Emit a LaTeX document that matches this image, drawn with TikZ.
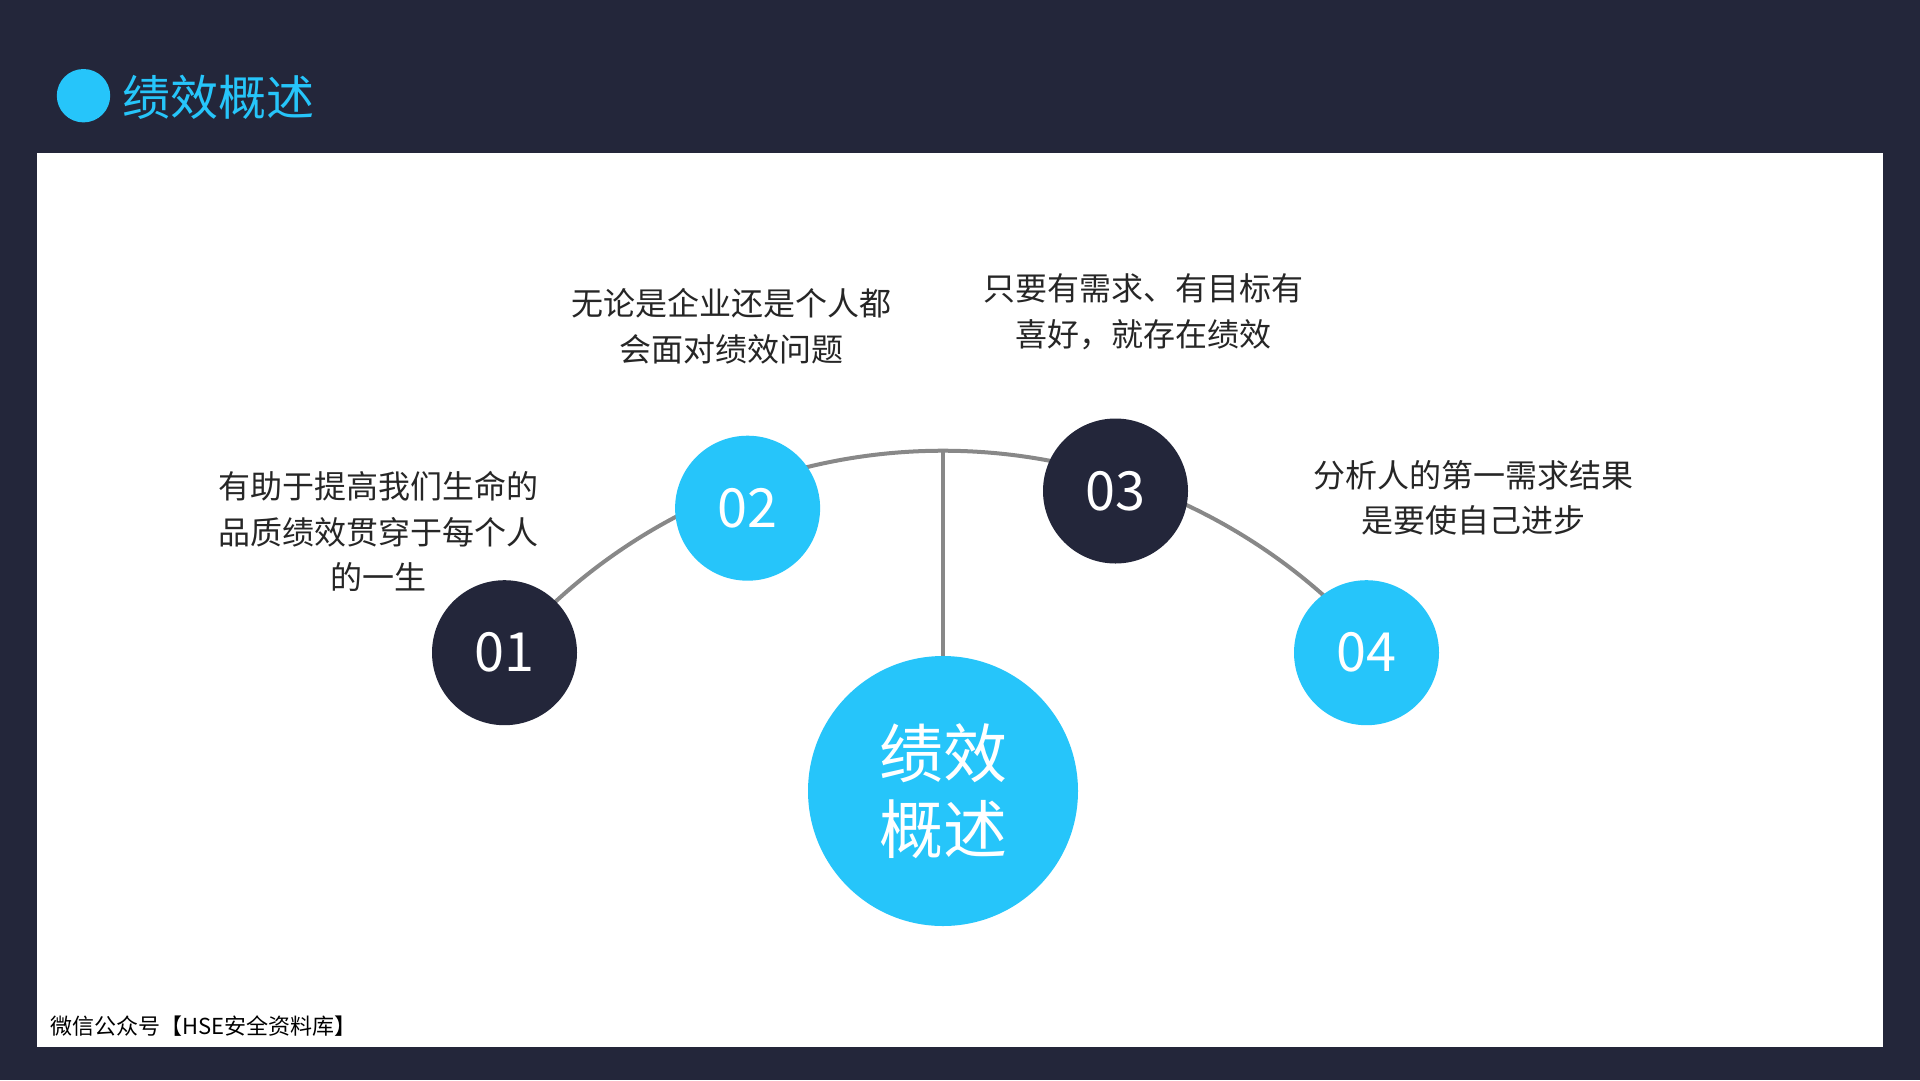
\documentclass[tikz,border=0pt]{standalone}
\usepackage{fontspec}
\setmainfont{Noto Sans CJK SC}
\definecolor{navy}{HTML}{23263A}
\definecolor{cyanc}{HTML}{26C5FA}
\definecolor{txt}{HTML}{262626}
\definecolor{linec}{HTML}{888888}
\tikzset{
  dot/.style={circle,inner sep=0pt,minimum size=145pt,text=white,
    font=\fontsize{54}{60}\selectfont},
  dotc/.style={dot,fill=cyanc},
  dotn/.style={dot,fill=navy},
  desc/.style={align=center,text=txt,inner sep=0pt,font=\fontsize{32}{45.5}\selectfont},
  conn/.style={draw=linec,line width=4pt}
}
\begin{document}
\begin{tikzpicture}[x=1pt,y=-1pt]
\useasboundingbox (0,0) rectangle (1920,1080);
\fill[navy] (0,0) rectangle (1920,1080);
\fill[white] (36.7,153) rectangle (1883,1047);
% title
\node[circle,fill=cyanc,inner sep=0pt,minimum size=53.4pt] (tdot) at (83.5,95.7) {};
\node[anchor=west,inner sep=0pt,text=cyanc,font=\fontsize{48}{52}\selectfont] (title) at (122,97) {绩效概述};
% arc and stem
\coordinate (ac) at (943,1023.7);
\coordinate (top) at (943,450.7);
\draw[conn] ([shift={(-139.8:573)}]ac) arc[start angle=-139.8,end angle=-40.2,radius=573];
% circles
\node[dotc,minimum size=270pt,font=\fontsize{64}{76}\selectfont,align=center] (main) at (943,791) {绩效\\概述};
\draw[conn] (top) -- (main.north);
\node[dotn] (c1) at (504.5,652.7) {\raisebox{2pt}{01}};
\node[dotc] (c2) at (747.6,508.2) {02};
\node[dotn] (c3) at (1115.5,491) {\raisebox{-3pt}{03}};
\node[dotc] (c4) at (1366.5,652.7) {\raisebox{2pt}{04}};
% descriptions
\node[desc] (t1) at (378,531.5) {有助于提高我们生命的\\品质绩效贯穿于每个人\\的一生};
\node[desc] (t2) at (731,326.4) {无论是企业还是个人都\\会面对绩效问题};
\node[desc] (t3) at (1143.7,311.7) {只要有需求、有目标有\\喜好，就存在绩效};
\node[desc] (t4) at (1473,497.7) {分析人的第一需求结果\\是要使自己进步};
% footer
\node[anchor=west,inner sep=0pt,text=black,font=\fontsize{22}{24}\selectfont] (foot) at (50,1026) {微信公众号【HSE安全资料库】};
\end{tikzpicture}
\end{document}
